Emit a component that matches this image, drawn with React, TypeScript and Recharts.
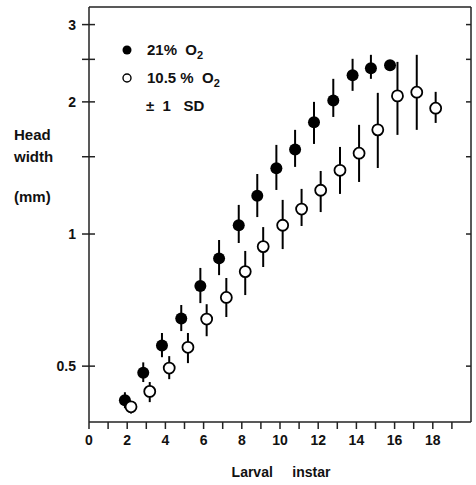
import React from 'react';
import {
    ScatterChart, Scatter, XAxis, YAxis, ErrorBar, ReferenceLine, Customized
} from 'recharts';

// instar positions (filled series is shifted slightly left, open slightly right)
const instarsHigh = [1.88, 2.84, 3.82, 4.83, 5.83, 6.81, 7.84, 8.81, 9.81, 10.79, 11.78, 12.79, 13.8, 14.76, 15.76];
const widthHigh = [0.418, 0.483, 0.557, 0.642, 0.761, 0.88, 1.047, 1.223, 1.412, 1.557, 1.798, 2.014, 2.3, 2.387, 2.425];
const lowHigh = [0.401, 0.46, 0.524, 0.601, 0.696, 0.806, 0.954, 1.093, 1.26, 1.422, 1.604, 1.848, 2.119, 2.257, 2.366];
const upHigh = [0.436, 0.51, 0.595, 0.689, 0.837, 0.969, 1.165, 1.37, 1.596, 1.727, 2.0, 2.257, 2.507, 2.56, 2.48];

const instarsLow = [2.2, 3.18, 4.2, 5.18, 6.16, 7.19, 8.18, 9.12, 10.14, 11.13, 12.13, 13.14, 14.14, 15.12, 16.15, 17.16, 18.15];
const widthLow = [0.404, 0.438, 0.495, 0.552, 0.64, 0.717, 0.821, 0.936, 1.047, 1.14, 1.258, 1.397, 1.528, 1.727, 2.064, 2.104, 1.935];
const lowLow = [0.39, 0.414, 0.467, 0.508, 0.585, 0.647, 0.726, 0.841, 0.924, 1.043, 1.122, 1.234, 1.314, 1.414, 1.682, 1.727, 1.791];
const upLow = [0.414, 0.46, 0.527, 0.595, 0.692, 0.794, 0.915, 1.037, 1.196, 1.267, 1.392, 1.579, 1.773, 2.097, 2.467, 2.56, 2.108];

const xTicks = [0, 1, 2, 3, 4, 5, 6, 7, 8, 9, 10, 11, 12, 13, 14, 15, 16, 17, 18, 19];
const yTicks = [0.5, 1, 1.5, 2, 2.5, 3];
const yLabelled = [0.5, 1, 2, 3];

const X_MAX = 20;
const Y_MIN = 0.373;
const Y_MAX = 3.29;

const FONT = '"Liberation Sans", Arial, sans-serif';
const PLOT_RIGHT = 471; // right frame, used for the inward ticks on the right side

function build(xs: number[], ys: number[], lo: number[], hi: number[]) {
    return xs.map((x, i) => ({ x, y: ys[i], err: [ys[i] - lo[i], hi[i] - ys[i]] }));
}

const dataHigh = build(instarsHigh, widthHigh, lowHigh, upHigh);
const dataLow = build(instarsLow, widthLow, lowLow, upLow);

const LeftTick = (props: any) => {
    const { x, y, payload } = props;
    const v = payload.value;
    return (
        <g>
            <line x1={x - 7} x2={x + 6} y1={y} y2={y} stroke="#222" strokeWidth={1.5} />
            <line x1={PLOT_RIGHT - 5} x2={PLOT_RIGHT} y1={y} y2={y} stroke="#222" strokeWidth={1.5} />
            {yLabelled.includes(v) && (
                <text x={x - 13} y={y + 5} textAnchor="end" fontFamily={FONT} fontWeight="bold" fontSize={14} fill="#111">
                    {v}
                </text>
            )}
        </g>
    );
};

const Filled = (props: any) => <circle cx={props.cx} cy={props.cy} r={6} fill="#000" />;
const Open = (props: any) => <circle cx={props.cx} cy={props.cy} r={5.5} fill="#fff" stroke="#000" strokeWidth={1.8} />;

const pre = { whiteSpace: 'pre' as const };

const Annotations = () => (
    <g fontFamily={FONT} fontWeight="bold" fill="#111" style={pre}>
        <circle cx={127} cy={50} r={4.5} fill="#000" />
        <text x={147} y={55} fontSize={15} style={pre}>{'21%  O'}<tspan fontSize={11} dy={4}>2</tspan></text>
        <circle cx={127} cy={78} r={4} fill="#fff" stroke="#000" strokeWidth={1.4} />
        <text x={147} y={83} fontSize={15} style={pre}>{'10.5 %  O'}<tspan fontSize={11} dy={4}>2</tspan></text>
        <text x={146} y={111} fontSize={15} style={pre}>{'±  1   SD'}</text>
        <text x={14} y={140} fontSize={15}>Head</text>
        <text x={14} y={162} fontSize={15}>width</text>
        <text x={14} y={202} fontSize={15}>(mm)</text>
        <text x={281} y={477} fontSize={14} textAnchor="middle" style={pre}>{'Larval     instar'}</text>
    </g>
);

export default function App() {
    return (
        <div style={{ position: 'absolute', left: 0, top: 0, background: '#fff' }}>
            <ScatterChart width={476} height={485} margin={{ top: 7, right: 5, bottom: 33, left: 0 }}>
                <XAxis
                    type="number"
                    dataKey="x"
                    domain={[0, X_MAX]}
                    ticks={xTicks}
                    interval={0}
                    tickSize={7}
                    tickMargin={6}
                    height={30}
                    stroke="#222"
                    strokeWidth={1.5}
                    tickFormatter={(v: number) => (v % 2 === 0 ? String(v) : '')}
                    tick={{ fontFamily: FONT, fontWeight: 'bold', fontSize: 14, fill: '#111' }}
                />
                <YAxis
                    type="number"
                    dataKey="y"
                    scale="log"
                    domain={[Y_MIN, Y_MAX]}
                    allowDataOverflow
                    ticks={yTicks}
                    interval={0}
                    width={89}
                    tickSize={0}
                    tickMargin={0}
                    tickLine={false}
                    stroke="#222"
                    strokeWidth={1.5}
                    tick={<LeftTick />}
                />
                <ReferenceLine x={X_MAX} stroke="#222" strokeWidth={1.5} />
                <ReferenceLine y={Y_MAX} stroke="#222" strokeWidth={1.5} />
                <Scatter data={dataHigh} shape={<Filled />} isAnimationActive={false}>
                    <ErrorBar dataKey="err" direction="y" width={0} stroke="#000" strokeWidth={2} />
                </Scatter>
                <Scatter data={dataLow} shape={<Open />} isAnimationActive={false}>
                    <ErrorBar dataKey="err" direction="y" width={0} stroke="#000" strokeWidth={2} />
                </Scatter>
                <Customized component={Annotations} />
            </ScatterChart>
        </div>
    );
}
